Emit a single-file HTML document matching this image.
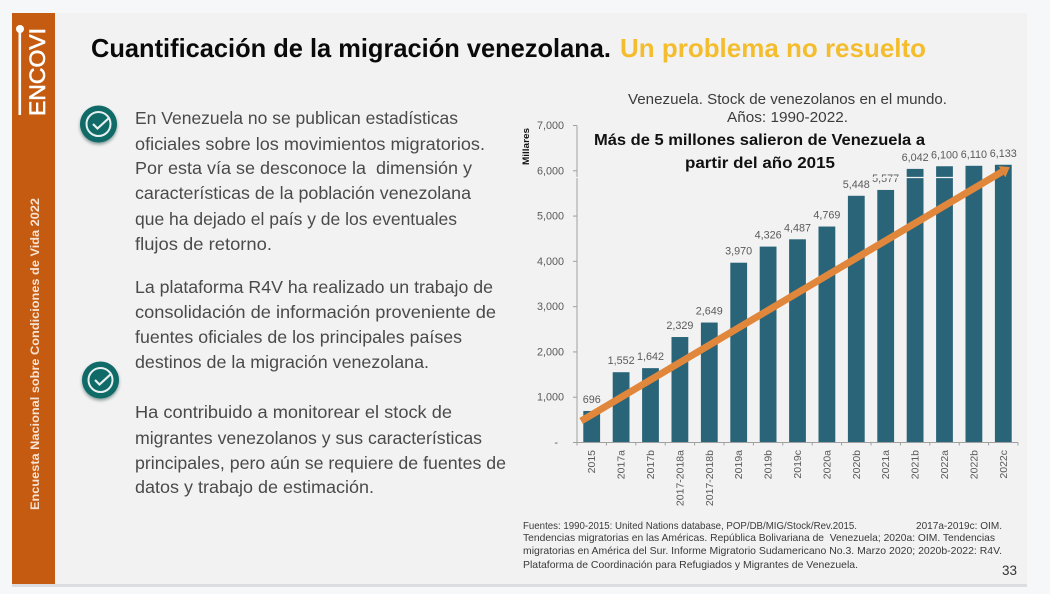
<!DOCTYPE html>
<html lang="es">
<head>
<meta charset="utf-8">
<title>Cuantificación de la migración venezolana</title>
<style>
html,body{margin:0;padding:0;background:#f6f7f8;width:1050px;height:594px;overflow:hidden}
svg{display:block;font-family:"Liberation Sans",sans-serif;filter:blur(.35px)}
.body-text{font-size:17.5px;fill:#4a4a4a}
.src{font-size:10.5px;fill:#3a3a3a}
</style>
</head>
<body>
<svg id="page" xmlns="http://www.w3.org/2000/svg" width="1050" height="594" viewBox="0 0 1050 594">
  <defs>
    <filter id="soft" x="-40%" y="-40%" width="180%" height="180%"><feGaussianBlur stdDeviation="1.6"/></filter>
  </defs>
  <rect x="0" y="0" width="1050" height="594" fill="#f6f7f8"/>
  <rect x="12" y="583" width="1015" height="4" fill="#dcdde0"/>
  <rect x="12" y="13" width="1015" height="571" fill="#f2f2f2"/>
  <rect x="12" y="13" width="43" height="571" fill="#c55a11"/>

  <g>
    <circle cx="20" cy="29" r="4" fill="#fff"/>
    <rect x="18.500" y="30" width="2.600" height="85" fill="#fff"/>
    <text transform="translate(45,116) rotate(-90)" font-size="22" fill="#fff" stroke="#fff" stroke-width=".6" textLength="88" lengthAdjust="spacingAndGlyphs">ENCOVI</text>
  </g>
  <text transform="translate(39,510) rotate(-90)" font-size="12" font-weight="bold" fill="#f6e3d2" textLength="312" lengthAdjust="spacingAndGlyphs">Encuesta Nacional sobre Condiciones de Vida 2022</text>

  <text x="91" y="57" font-size="26" font-weight="bold" fill="#0a0a0a" textLength="520" lengthAdjust="spacingAndGlyphs">Cuantificación de la migración venezolana.</text>
  <text x="620" y="57" font-size="26" font-weight="bold" fill="#f3bd2e" textLength="306" lengthAdjust="spacingAndGlyphs">Un problema no resuelto</text>

  <g>
    <circle cx="98.500" cy="126" r="18.500" fill="#2f4f4f" opacity=".55" filter="url(#soft)"/>
    <circle cx="98.500" cy="124" r="18.500" fill="#0f6a68"/>
    <circle cx="98.500" cy="124" r="12" fill="none" stroke="#e6f0ef" stroke-width="2"/>
    <path d="M93 124l4.500 4.500 12-11" fill="none" stroke="#e6f0ef" stroke-width="2.200"/>
  </g>
  <g>
    <circle cx="100.500" cy="382" r="18.500" fill="#2f4f4f" opacity=".55" filter="url(#soft)"/>
    <circle cx="100.500" cy="380" r="18.500" fill="#0f6a68"/>
    <circle cx="100.500" cy="380" r="12" fill="none" stroke="#e6f0ef" stroke-width="2"/>
    <path d="M95 380l4.500 4.500 12-11" fill="none" stroke="#e6f0ef" stroke-width="2.200"/>
  </g>

  <g>
    <text class="body-text" x="135" y="124" textLength="323" lengthAdjust="spacingAndGlyphs">En Venezuela no se publican estadísticas</text>
    <text class="body-text" x="135" y="150" textLength="350" lengthAdjust="spacingAndGlyphs">oficiales sobre los movimientos migratorios.</text>
    <text class="body-text" x="135" y="174" textLength="337" lengthAdjust="spacingAndGlyphs" xml:space="preserve">Por esta vía se desconoce la  dimensión y</text>
    <text class="body-text" x="135" y="199" textLength="336" lengthAdjust="spacingAndGlyphs">características de la población venezolana</text>
    <text class="body-text" x="135" y="225" textLength="322" lengthAdjust="spacingAndGlyphs">que ha dejado el país y de los eventuales</text>
    <text class="body-text" x="135" y="250" textLength="137" lengthAdjust="spacingAndGlyphs">flujos de retorno.</text>
  </g>
  <g>
    <text class="body-text" x="135" y="293" textLength="358" lengthAdjust="spacingAndGlyphs">La plataforma R4V ha realizado un trabajo de</text>
    <text class="body-text" x="135" y="318" textLength="361" lengthAdjust="spacingAndGlyphs">consolidación de información proveniente de</text>
    <text class="body-text" x="135" y="343" textLength="327" lengthAdjust="spacingAndGlyphs">fuentes oficiales de los principales países</text>
    <text class="body-text" x="135" y="368" textLength="294" lengthAdjust="spacingAndGlyphs">destinos de la migración venezolana.</text>
  </g>
  <g>
    <text class="body-text" x="135" y="418" textLength="317" lengthAdjust="spacingAndGlyphs">Ha contribuido a monitorear el stock de</text>
    <text class="body-text" x="135" y="444" textLength="347" lengthAdjust="spacingAndGlyphs">migrantes venezolanos y sus características</text>
    <text class="body-text" x="135" y="469" textLength="371" lengthAdjust="spacingAndGlyphs">principales, pero aún se requiere de fuentes de</text>
    <text class="body-text" x="135" y="493" textLength="239" lengthAdjust="spacingAndGlyphs">datos y trabajo de estimación.</text>
  </g>

  <text x="628" y="104" font-size="14.500" fill="#3c3c3c" textLength="319" lengthAdjust="spacingAndGlyphs">Venezuela. Stock de venezolanos en el mundo.</text>
  <text x="727" y="122" font-size="14.500" fill="#3c3c3c" textLength="121" lengthAdjust="spacingAndGlyphs">Años: 1990-2022.</text>

  <g id="chart"></g>

  <text x="594" y="145" font-size="16" font-weight="bold" fill="#111" textLength="331" lengthAdjust="spacingAndGlyphs">Más de 5 millones salieron de Venezuela a</text>
  <text x="685" y="168" font-size="16" font-weight="bold" fill="#111" textLength="150" lengthAdjust="spacingAndGlyphs">partir del año 2015</text>

  <g>
    <text class="src" x="523" y="529" textLength="334" lengthAdjust="spacingAndGlyphs">Fuentes: 1990-2015: United Nations database, POP/DB/MIG/Stock/Rev.2015.</text>
    <text class="src" x="916" y="529" textLength="86" lengthAdjust="spacingAndGlyphs">2017a-2019c: OIM.</text>
    <text class="src" x="523" y="541" textLength="472" lengthAdjust="spacingAndGlyphs" xml:space="preserve">Tendencias migratorias en las Américas. República Bolivariana de  Venezuela; 2020a: OIM. Tendencias</text>
    <text class="src" x="523" y="554" textLength="479" lengthAdjust="spacingAndGlyphs">migratorias en América del Sur. Informe Migratorio Sudamericano No.3. Marzo 2020; 2020b-2022: R4V.</text>
    <text class="src" x="523" y="568" textLength="335" lengthAdjust="spacingAndGlyphs">Plataforma de Coordinación para Refugiados y Migrantes de Venezuela.</text>
  </g>
  <text x="1002" y="575" font-size="13.500" fill="#333" textLength="15" lengthAdjust="spacingAndGlyphs">33</text>
</svg>

<script>
const categories = ['2015','2017a','2017b','2017-2018a','2017-2018b','2019a','2019b','2019c','2020a','2020b','2021a','2021b','2022a','2022b','2022c'];
const stockValues = [696,1552,1642,2329,2649,3970,4326,4487,4769,5448,5577,6042,6100,6110,6133];
const valueLabels = ['696','1,552','1,642','2,329','2,649','3,970','4,326','4,487','4,769','5,448','5,577','6,042','6,100','6,110','6,133'];
const yTickValues = [0,1000,2000,3000,4000,5000,6000,7000];
const yTickLabels = ['-','1,000','2,000','3,000','4,000','5,000','6,000','7,000'];
const trendCategoryIndex = [-0.36,14.22];
const trendValues = [475,6080];

const NS = 'http://www.w3.org/2000/svg';
const chart = document.getElementById('chart');
const plotLeft = 577, plotRight = 1018, plotBottom = 442.5, plotTop = 125.5, yMax = 7000;
const step = (plotRight - plotLeft) / categories.length;
const barWidth = 16.8;
function xPos(i){ return plotLeft + step * (i + 0.5); }
function yPos(v){ return plotBottom - (v / yMax) * (plotBottom - plotTop); }
function make(tag, attrs, text){
  const el = document.createElementNS(NS, tag);
  for (const k in attrs) el.setAttribute(k, attrs[k]);
  if (text !== undefined) el.textContent = text;
  chart.appendChild(el);
  return el;
}

yTickValues.forEach(function(v, i){
  const tick = make('line', {x1: plotLeft - 4, x2: plotLeft, y1: yPos(v), y2: yPos(v), stroke: '#a0a0a0', 'stroke-width': 1});
  
  
  const label = make('text', {x: v === 0 ? 558 : 564, y: yPos(v) + 3.5, 'text-anchor': 'end', 'font-size': 10.8, fill: '#5a5a5a'}, yTickLabels[i]);
  
  
});

const yAxis = make('line', {x1: plotLeft, x2: plotLeft, y1: plotTop, y2: plotBottom, stroke: '#a0a0a0', 'stroke-width': 1});



const yTitle = make('text', {transform: 'translate(529,165) rotate(-90)', 'font-size': 9.5, 'font-weight': 'bold', fill: '#111', textLength: 37, lengthAdjust: 'spacingAndGlyphs'}, 'Millares');



categories.forEach(function(c, i){
  const top = yPos(stockValues[i]);
  const bar = make('rect', {x: xPos(i) - barWidth / 2, y: top, width: barWidth, height: plotBottom - top, fill: '#2a6478'});
  
  
  const value = make('text', {x: xPos(i), y: top - 8, 'text-anchor': 'middle', 'font-size': 10.8, fill: '#5a5a5a'}, valueLabels[i]);
  
  
  const cat = make('text', {transform: 'translate(' + (xPos(i) + 3.5) + ',450) rotate(-90)', 'text-anchor': 'end', 'font-size': 10.5, fill: '#5a5a5a'}, c);
  
  
});

for (let i = 0; i <= categories.length; i++) {
  const t = make('line', {x1: plotLeft + step * i, x2: plotLeft + step * i, y1: plotBottom, y2: plotBottom + 3, stroke: '#a0a0a0', 'stroke-width': 1});
  
  
}
const xAxis = make('line', {x1: plotLeft, x2: plotRight, y1: plotBottom, y2: plotBottom, stroke: '#a0a0a0', 'stroke-width': 1});



const seam = make('line', {x1: 570, x2: 955, y1: 177.5, y2: 177.5, stroke: '#f2f2f2', 'stroke-width': 1.3});



const ax = xPos(trendCategoryIndex[0]), ay = yPos(trendValues[0]);
const bx = xPos(trendCategoryIndex[1]), by = yPos(trendValues[1]);
const len = Math.hypot(bx - ax, by - ay), ux = (bx - ax) / len, uy = (by - ay) / len;
const headBaseX = bx - ux * 9, headBaseY = by - uy * 9;
const trend = make('line', {x1: ax, y1: ay, x2: headBaseX, y2: headBaseY, stroke: '#e0873c', 'stroke-width': 7});


const head = make('polygon', {points: [bx + ',' + by, (headBaseX - uy * 6.5) + ',' + (headBaseY + ux * 6.5), (headBaseX + uy * 6.5) + ',' + (headBaseY - ux * 6.5)].join(' '), fill: '#e0873c'});


</script>
</body>
</html>
